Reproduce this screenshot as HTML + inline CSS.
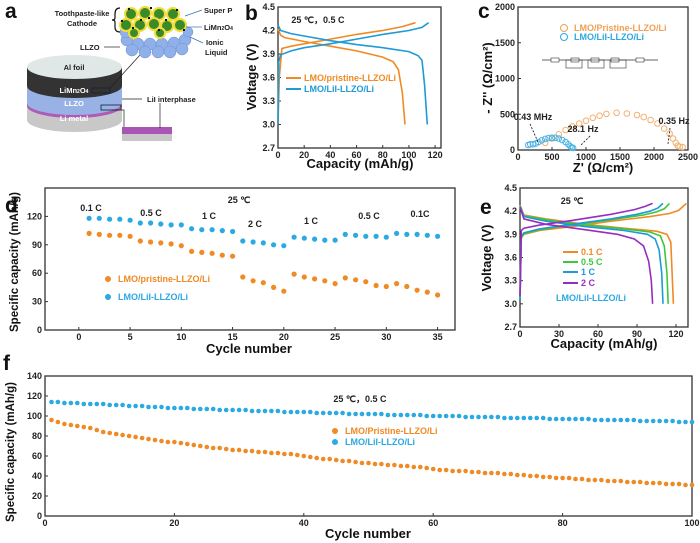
<!DOCTYPE html>
<html><head><meta charset="utf-8"><style>
html,body{margin:0;padding:0;background:#fff}
svg{display:block;font-family:"Liberation Sans",Arial,sans-serif}
.t{font-weight:bold;font-size:9px;fill:#222}
.ti{font-weight:bold;font-size:13px;fill:#111}
.pl{font-weight:bold;font-size:21px;fill:#111}
.lg{font-weight:bold;font-size:9px}
.sm{font-weight:bold;font-size:7.5px;fill:#222}
</style></head><body>
<svg id="fig" width="700" height="543" viewBox="0 0 700 543">
<g>
<text class="pl" x="5" y="18">a</text>
<path d="M27 67 L27 120 A47.5 12 0 0 0 122 120 L122 67 Z" fill="#c8c8c8"/>
<path d="M27 67 L27 106 A47.5 12 0 0 0 122 106 L122 67 Z" fill="#b05ab8"/>
<path d="M27 67 L27 103 A47.5 12 0 0 0 122 103 L122 67 Z" fill="#98b2e6"/>
<path d="M27 67 L27 86 A47.5 12 0 0 0 122 86 L122 67 Z" fill="#333"/>
<ellipse cx="74.5" cy="67" rx="47.5" ry="12" fill="#dfe7e7"/>
<text class="sm" x="74" y="70" text-anchor="middle" font-size="8">Al foil</text>
<text class="sm" x="74" y="93" text-anchor="middle" style="fill:#fff">LiMn<tspan font-size="5">2</tspan>O<tspan font-size="5">4</tspan></text>
<text class="sm" x="74" y="106" text-anchor="middle" style="fill:#fff">LLZO</text>
<text class="sm" x="74" y="121" text-anchor="middle" style="fill:#fff">Li metal</text>
<rect x="92" y="88" width="18" height="5" fill="none" stroke="#123" stroke-width="0.8"/>
<rect x="101" y="105" width="20" height="5" fill="none" stroke="#123" stroke-width="0.8"/>
<line x1="110" y1="88" x2="140" y2="55" stroke="#222" stroke-width="0.7"/>
<polyline points="112,110 124,110 124,130" fill="none" stroke="#222" stroke-width="0.7"/>
<line x1="122" y1="99" x2="142" y2="99" stroke="#222" stroke-width="0.7"/>
<rect x="122" y="127" width="50" height="7" fill="#a855b5"/>
<rect x="122" y="134" width="50" height="7" fill="#c8c8c8"/>
<line x1="160" y1="103" x2="160" y2="128" stroke="#222" stroke-width="0.7"/>
<g fill="#8fb0e8" stroke="#6d8fd0" stroke-width="0.5">
<circle cx="127" cy="40" r="6"/><circle cx="138" cy="44" r="6"/><circle cx="150" cy="44" r="6"/><circle cx="162" cy="44" r="6"/><circle cx="174" cy="43" r="6"/><circle cx="185" cy="40" r="6"/>
<circle cx="132" cy="50" r="6"/><circle cx="145" cy="52" r="6"/><circle cx="158" cy="52" r="6"/><circle cx="170" cy="52" r="6"/><circle cx="182" cy="49" r="6"/><circle cx="126" cy="32" r="6"/><circle cx="188" cy="32" r="5"/>
</g>
<g fill="#3a8a2a" stroke="#f2dc3a" stroke-width="2">
<circle cx="131" cy="14" r="6"/><circle cx="145" cy="13" r="6"/><circle cx="159" cy="14" r="6"/><circle cx="173" cy="14" r="6"/>
<circle cx="126" cy="25" r="6"/><circle cx="140" cy="25" r="6"/><circle cx="154" cy="24" r="6"/><circle cx="167" cy="26" r="6"/><circle cx="180" cy="25" r="6"/>
<circle cx="134" cy="33" r="5"/><circle cx="160" cy="33" r="5"/>
</g>
<g fill="#111"><rect x="128" y="8" width="2" height="2"/><rect x="150" y="7" width="2" height="2"/><rect x="140" y="19" width="2" height="2"/><rect x="165" y="19" width="2" height="2"/><rect x="176" y="9" width="2" height="2"/><rect x="132" y="27" width="2" height="2"/><rect x="158" y="29" width="2" height="2"/><rect x="183" y="29" width="2" height="2"/><rect x="148" y="17" width="2" height="2"/><rect x="121" y="20" width="2" height="2"/></g>
<path d="M120 8 Q115 8 115 14 L115 18 Q115 20 112 20 Q115 20 115 22 L115 27 Q115 32 120 32" fill="none" stroke="#111" stroke-width="1.2"/>
<text class="sm" x="82" y="16" text-anchor="middle">Toothpaste-like</text>
<text class="sm" x="82" y="26" text-anchor="middle">Cathode</text>
<text class="sm" x="80" y="50">LLZO</text>
<line x1="104" y1="47" x2="120" y2="47" stroke="#222" stroke-width="0.7"/>
<text class="sm" x="204" y="13">Super P</text>
<line x1="185" y1="16" x2="202" y2="10" stroke="#3d6fb3" stroke-width="0.7"/>
<text class="sm" x="204" y="30">LiMn<tspan font-size="5">2</tspan>O<tspan font-size="5">4</tspan></text>
<line x1="186" y1="27" x2="202" y2="27" stroke="#3d6fb3" stroke-width="0.7"/>
<text class="sm" x="206" y="45">Ionic</text>
<text class="sm" x="205" y="55">Liquid</text>
<line x1="190" y1="37" x2="203" y2="43" stroke="#3d6fb3" stroke-width="0.7"/>
<text class="sm" x="147" y="102">LiI interphase</text>
</g>
<g id="charts"></g>
</svg>
<script>
var bOrangeChargeCap=[0,1,3,10,20,40,60,80,95,105];
var bOrangeChargeV=[3.0,3.6,3.97,4.0,4.03,4.09,4.15,4.2,4.25,4.3];
var bOrangeDisCap=[0,2,5,20,40,60,80,88,92,95,97];
var bOrangeDisV=[4.22,4.14,4.11,4.06,4.0,3.94,3.86,3.8,3.7,3.4,3.0];
var bBlueChargeCap=[0,0.5,2,10,20,40,60,80,100,110,115];
var bBlueChargeV=[3.0,3.8,3.89,3.94,3.98,4.03,4.09,4.15,4.2,4.24,4.3];
var bBlueDisCap=[0,2,10,20,40,60,80,100,107,110,112,114];
var bBlueDisV=[4.27,4.2,4.16,4.13,4.07,4.02,3.98,3.93,3.88,3.82,3.5,3.0];

var cOrangeX=[400,500,600,700,800,900,1000,1100,1200,1300,1450,1600,1750,1850,1950,2050,2150,2230,2280,2320,2350,2380,2420];
var cOrangeY=[100,160,220,280,330,370,410,450,480,505,520,510,490,460,420,370,300,230,160,100,60,45,40];
var cBlueX=[150,180,220,260,300,350,400,450,500,550,600,650,700,740,770,790,810];
var cBlueY=[70,80,80,90,110,135,155,168,172,170,160,140,110,80,50,35,30];

var dCycles=[1,2,3,4,5,6,7,8,9,10,11,12,13,14,15,16,17,18,19,20,21,22,23,24,25,26,27,28,29,30,31,32,33,34,35];
var dPristine=[102,101,100,100,99,94,93,92,91,89,83,82,81,79,78,56,52,50,45,41,59,56,54,52,49,55,53,51,47,46,49,46,42,40,37];
var dLiI=[118,118,117,117,116,113,113,112,111,111,107,106,106,105,104,94,93,92,90,89,98,97,96,95,95,101,100,99,99,98,102,101,101,100,99];

var eCharge01Cap=[0,1,3,15,40,70,100,115,122,128];
var eCharge01V=[3.05,3.85,3.9,3.95,4.0,4.07,4.13,4.17,4.21,4.3];
var eCharge05Cap=[0,1,3,15,40,70,95,105,111,115];
var eCharge05V=[3.05,3.86,3.91,3.96,4.02,4.09,4.15,4.19,4.23,4.3];
var eCharge1Cap=[0,1,3,15,40,70,90,100,106,110];
var eCharge1V=[3.05,3.87,3.92,3.97,4.03,4.1,4.16,4.2,4.24,4.3];
var eCharge2Cap=[0,1,3,15,40,70,88,96,102];
var eCharge2V=[3.1,3.95,3.98,4.02,4.08,4.16,4.22,4.26,4.3];
var eDis01Cap=[0,3,20,50,80,105,113,116,117,118];
var eDis01V=[4.28,4.15,4.1,4.03,3.98,3.94,3.9,3.8,3.4,3.0];
var eDis05Cap=[0,3,20,50,80,100,108,111,113,114];
var eDis05V=[4.27,4.14,4.09,4.02,3.97,3.93,3.88,3.75,3.4,3.0];
var eDis1Cap=[0,3,20,50,80,98,104,107,109,110];
var eDis1V=[4.26,4.13,4.07,4.0,3.95,3.9,3.84,3.7,3.4,3.0];
var eDis2Cap=[0,3,20,50,75,88,95,99,101,102];
var eDis2V=[4.25,4.1,4.03,3.96,3.9,3.84,3.75,3.55,3.3,3.0];

var fPristine=[96,94,92,91,90,89,88,86,84,83,82,81,80,79,78,77,76,75,74,74,73,72,71,70,69,68,68,67,66,66,65,65,64,64,63,63,62,62,61,60,59,58,57,57,56,55,55,54,53,53,52,52,51,51,50,50,49,49,48,47,46,46,45,45,45,44,44,43,43,43,42,42,41,41,40,40,39,39,38,38,38,37,37,36,36,36,35,35,35,34,34,34,33,33,33,32,32,32,31,31];
var fLiI=[114,114,113,113,113,112,112,112,112,111,111,111,110,110,110,109,109,109,108,108,108,108,107,107,107,107,106,106,106,106,106,105,105,105,105,105,104,104,104,104,104,103,103,103,103,103,102,102,102,102,102,102,101,101,101,101,101,101,100,100,100,100,100,100,99,99,99,99,99,99,98,98,98,98,98,98,98,97,97,97,97,97,97,97,96,96,96,96,96,96,96,95,95,95,95,95,95,94,94,94];

var bXTicks=[0,20,40,60,80,100,120], bYTicks=[2.7,3.0,3.3,3.6,3.9,4.2,4.5];
var cXTicks=[0,500,1000,1500,2000,2500], cYTicks=[0,500,1000,1500,2000];
var dXTicks=[0,5,10,15,20,25,30,35], dYTicks=[0,30,60,90,120];
var eXTicks=[0,30,60,90,120], eYTicks=[2.7,3.0,3.3,3.6,3.9,4.2,4.5];
var fXTicks=[0,20,40,60,80,100], fYTicks=[0,20,40,60,80,100,120,140];

var NS="http://www.w3.org/2000/svg";
var root=document.getElementById('charts');
function mk(tag,attrs,parent){var e=document.createElementNS(NS,tag);for(var k in attrs)e.setAttribute(k,attrs[k]);(parent||root).appendChild(e);return e;}
function txt(x,y,s,cls,extra,parent){var e=mk('text',Object.assign({x:x,y:y,'class':cls},extra||{}),parent);e.textContent=s;return e;}
var OR="#f08a24", BL="#1e9ad6", BLD="#2aa9e2", GR="#3cc83c", PU="#9a2bc0";

function panel(name,L,R,T,B,x0,x1,y0,y1,xt,yt,fmtY){
  var g=mk('g',{});
  
  
  var sx=function(v){return L+(v-x0)/(x1-x0)*(R-L);};
  var sy=function(v){return B-(v-y0)/(y1-y0)*(B-T);};
  var fr=mk('rect',{x:L,y:T,width:R-L,height:B-T,fill:'none',stroke:'#333','stroke-width':1.3},g);
  
  
  var xa=mk('g',{},g);
  
  
  xt.forEach(function(v){var x=sx(v);mk('line',{x1:x,y1:B,x2:x,y2:B-3,stroke:'#333','stroke-width':1},xa);
    var t=txt(x,B+10,String(v),'t',{'text-anchor':'middle'},xa);
    
    });
  var ya=mk('g',{},g);
  
  
  yt.forEach(function(v){var y=sy(v);mk('line',{x1:L,y1:y,x2:L+3,y2:y,stroke:'#333','stroke-width':1},ya);
    var t=txt(L-3,y+3,fmtY?fmtY(v):String(v),'t',{'text-anchor':'end'},ya);
    
    });
  return {g:g,sx:sx,sy:sy};
}
function line(p,xs,ys,color,nm){
  var d=xs.map(function(v,i){return (i?'L':'M')+p.sx(v).toFixed(1)+' '+p.sy(ys[i]).toFixed(1);}).join(' ');
  var e=mk('path',{d:d,fill:'none',stroke:color,'stroke-width':1.6},p.g);
  
  
}
function dots(p,xs,ys,color,r,nm,hollow){
  var sg=mk('g',{},p.g);
  
  
  xs.forEach(function(v,i){
    var c=mk('circle',{cx:p.sx(v).toFixed(1),cy:p.sy(ys[i]).toFixed(1),r:r,fill:hollow?'none':color,stroke:color,'stroke-width':hollow?1:0},sg);
    
    
  });
}
function ytitle(x,y,s,nm,fs){var t=txt(x,y,s,'ti',{'text-anchor':'middle','font-size':fs||13,style:'font-size:'+(fs||13)+'px',transform:'rotate(-90 '+x+' '+y+')'});
  
  return t;}
function xtitle(x,y,s,nm){var t=txt(x,y,s,'ti',{'text-anchor':'middle'});
  
  return t;}
function plabel(x,y,s){var t=txt(x,y,s,'pl');
  
  }
function legLine(x,y,color,label,tcolor){var lg=mk('g',{});
  
  
  mk('line',{x1:x,y1:y,x2:x+15,y2:y,stroke:color,'stroke-width':2},lg);
  txt(x+18,y+3,label,'lg',{fill:tcolor||color},lg);}
function legDot(x,y,color,label,hollow){var lg=mk('g',{});
  
  
  mk('circle',{cx:x,cy:y,r:hollow?3.5:2.5,fill:hollow?'none':color,stroke:color,'stroke-width':1},lg);
  txt(x+10,y+3,label,'lg',{fill:color},lg);}
function note(x,y,s,nm,anchor){var t=txt(x,y,s,'lg',{fill:'#222','text-anchor':anchor||'middle'});
  
  }
var f1=function(v){return v.toFixed(1);};

// panel b
plabel(245,20,'b');
var pb=panel('panel-b-chart',278,441,7,148,0,124.5,2.7,4.5,bXTicks,bYTicks,f1);
line(pb,bOrangeChargeCap,bOrangeChargeV,OR,'pristine-charge-line');
line(pb,bOrangeDisCap,bOrangeDisV,OR,'pristine-discharge-line');
line(pb,bBlueChargeCap,bBlueChargeV,BL,'lii-charge-line');
line(pb,bBlueDisCap,bBlueDisV,BL,'lii-discharge-line');
legLine(286,78,OR,'LMO/pristine-LLZO/Li');
legLine(286,89,BL,'LMO/LiI-LLZO/Li');
note(318,23,'25 ℃，0.5 C','condition-label');
xtitle(360,168,'Capacity (mAh/g)','x-axis-title');
ytitle(256,77,'Voltage (V)','y-axis-title');

// panel c
plabel(478,18,'c');
var pc=panel('panel-c-chart',518,688,7,150,0,2500,0,2000,cXTicks,cYTicks);
dots(pc,cOrangeX,cOrangeY,'#f2b070',2.8,'pristine-eis-points',true);
dots(pc,cBlueX,cBlueY,'#4ab3e3',2.8,'lii-eis-points',true);
legDot(564,28,'#f0a050','LMO/Pristine-LLZO/Li',true);
legDot(564,37,BLD,'LMO/LiI-LLZO/Li',true);
var circ=mk('g',{});


mk('line',{x1:542,y1:60,x2:658,y2:60,stroke:'#333','stroke-width':0.8},circ);
[555,575,595,615,640].forEach(function(x){mk('rect',{x:x-4,y:58,width:8,height:4,fill:'#fff',stroke:'#333','stroke-width':0.6},circ);});
[566,588,610].forEach(function(x){mk('rect',{x:x,y:60,width:16,height:8,fill:'none',stroke:'#333','stroke-width':0.6},circ);});
note(533,120,'0.43 MHz','label-0.43mhz');
note(583,132,'28.1 Hz','label-28.1hz');
note(674,124,'0.35 Hz','label-0.35hz');
mk('path',{d:'M530 124 L538 142 M590 136 L580 146 M670 128 L668 144',stroke:'#222','stroke-width':0.9,'stroke-dasharray':'2 1.5',fill:'none'});
xtitle(603,172,"Z' (Ω/cm²)",'x-axis-title');
ytitle(492,78,"- Z'' (Ω/cm²)",'y-axis-title');

// panel d
plabel(5,212,'d');
var pd=panel('panel-d-chart',45,455,188,330,-3.3,36.7,0,150,dXTicks,dYTicks);
dots(pd,dCycles,dPristine,OR,2.6,'pristine-rate-points');
dots(pd,dCycles,dLiI,BLD,2.6,'lii-rate-points');
legDot(108,279,OR,'LMO/pristine-LLZO/Li');
legDot(108,297,BLD,'LMO/LiI-LLZO/Li');
note(239,203,'25 ℃','temperature-label');
note(91,211,'0.1 C','rate-label');note(151,216,'0.5 C','rate-label');note(209,219,'1 C','rate-label');
note(255,227,'2 C','rate-label');note(311,224,'1 C','rate-label');note(369,219,'0.5 C','rate-label');note(420,217,'0.1C','rate-label');
xtitle(249,353,'Cycle number','x-axis-title');
ytitle(18,262,'Specific capacity (mAh/g)','y-axis-title',11.5);

// panel e
plabel(480,214,'e');
var pe=panel('panel-e-chart',520,688,188,327,0,129.2,2.7,4.5,eXTicks,eYTicks,f1);
line(pe,eCharge01Cap,eCharge01V,OR,'charge-0.1c-line');line(pe,eDis01Cap,eDis01V,OR,'discharge-0.1c-line');
line(pe,eCharge05Cap,eCharge05V,GR,'charge-0.5c-line');line(pe,eDis05Cap,eDis05V,GR,'discharge-0.5c-line');
line(pe,eCharge1Cap,eCharge1V,BL,'charge-1c-line');line(pe,eDis1Cap,eDis1V,BL,'discharge-1c-line');
line(pe,eCharge2Cap,eCharge2V,PU,'charge-2c-line');line(pe,eDis2Cap,eDis2V,PU,'discharge-2c-line');
legLine(563,252,OR,'0.1 C');legLine(563,262,GR,'0.5 C');legLine(563,272,BL,'1 C');legLine(563,283,PU,'2 C');
var et=txt(556,301,'LMO/LiI-LLZO/Li','lg',{fill:BLD});


note(572,204,'25 ℃','temperature-label');
xtitle(604,348,'Capacity (mAh/g)','x-axis-title');
ytitle(491,258,'Voltage (V)','y-axis-title');

// panel f
plabel(3,370,'f');
var pf=panel('panel-f-chart',45,692,376,516,0,100,0,140,fXTicks,fYTicks);
var fCycles=fLiI.map(function(_,i){return i+1;});
dots(pf,fCycles,fPristine,OR,2.3,'pristine-cycling-points');
dots(pf,fCycles,fLiI,BLD,2.3,'lii-cycling-points');
legDot(335,431,OR,'LMO/Pristine-LLZO/Li');
legDot(335,442,BLD,'LMO/LiI-LLZO/Li');
note(360,402,'25 ℃，0.5 C','condition-label');
xtitle(368,538,'Cycle number','x-axis-title');
ytitle(14,452,'Specific capacity (mAh/g)','y-axis-title',11.5);
</script>
</body></html>
